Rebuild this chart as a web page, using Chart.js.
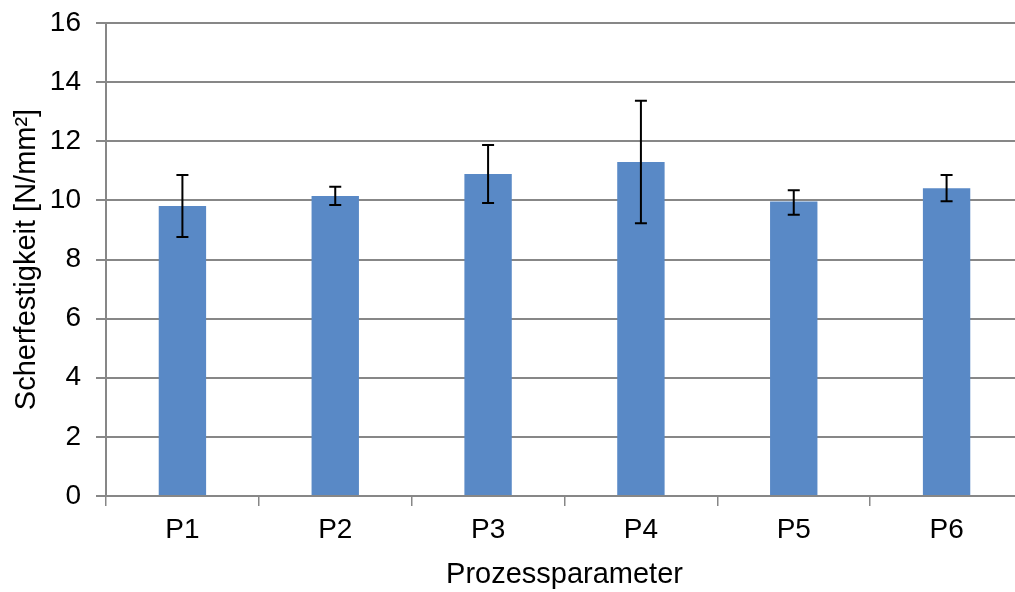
<!DOCTYPE html>
<html>
<head>
<meta charset="utf-8">
<script src="https://cdn.jsdelivr.net/npm/chart.js@4"></script>
<style>
body{margin:0;background:#fff;overflow:hidden;}
</style>
</head>
<body>
<canvas id="myChart" width="1023" height="592"></canvas>
<script>
'use strict'
let labels=['P1','P2','P3','P4','P5','P6'];
let values=[9.81,10.15,10.89,11.30,9.96,10.41];
let errUp=[1.05,0.31,0.98,2.07,0.38,0.45];
let errDown=[1.05,0.31,0.98,2.07,0.45,0.44];
let yTicks=[0,2,4,6,8,10,12,14,16];

let gridColor='#878787';

// draws the error whiskers with the chart's own scales
let errorBars={
  id:'errorBars',
  afterDatasetsDraw(chart){
    let ctx=chart.ctx;
    let x=chart.scales.x;
    let y=chart.scales.y;
    ctx.save();
    ctx.strokeStyle='#000';
    ctx.lineWidth=2;
    for(let i=0;i<values.length;i++){
      let cx=x.getPixelForValue(i);
      let top=y.getPixelForValue(values[i]+errUp[i]);
      let bot=y.getPixelForValue(values[i]-errDown[i]);
      ctx.beginPath();
      ctx.moveTo(cx,top);ctx.lineTo(cx,bot);
      ctx.moveTo(cx-6,top);ctx.lineTo(cx+6,top);
      ctx.moveTo(cx-6,bot);ctx.lineTo(cx+6,bot);
      ctx.stroke();
    }
    ctx.restore();
  }
};

Chart.defaults.font.family='"Liberation Sans", Arial, sans-serif';
Chart.defaults.color='#000';

let ctx=document.getElementById('myChart').getContext('2d');
let myChart=new Chart(ctx,{
  type:'bar',
  data:{
    labels:labels,
    datasets:[{
      data:values,
      backgroundColor:'#5989C6',
      borderWidth:0,
      barPercentage:0.31,
      categoryPercentage:1
    }]
  },
  options:{
    responsive:false,
    animation:false,
    layout:{padding:0},
    plugins:{legend:{display:false},tooltip:{enabled:false}},
    scales:{
      x:{
        afterFit(axis){axis.height=96;axis.paddingRight=0;},
        grid:{display:true,drawOnChartArea:false,drawTicks:true,tickLength:10,color:gridColor,lineWidth:1.5},
        border:{display:true,color:gridColor,width:2},
        ticks:{font:{size:28},padding:7},
        title:{display:true,text:'Prozessparameter',font:{size:29},padding:{top:0,bottom:0}}
      },
      y:{
        min:0,
        max:16,
        afterFit(axis){axis.width=106;axis.paddingTop=23;},
        afterBuildTicks(axis){axis.ticks=yTicks.map(v=>({value:v}));},
        grid:{color:gridColor,lineWidth:2,tickLength:10},
        border:{display:true,color:gridColor,width:2},
        ticks:{font:{size:28},padding:15},
        title:{display:true,text:'Scherfestigkeit [N/mm²]',font:{size:29},padding:{top:10,bottom:0}}
      }
    }
  },
  plugins:[errorBars]
});
</script>
</body>
</html>
